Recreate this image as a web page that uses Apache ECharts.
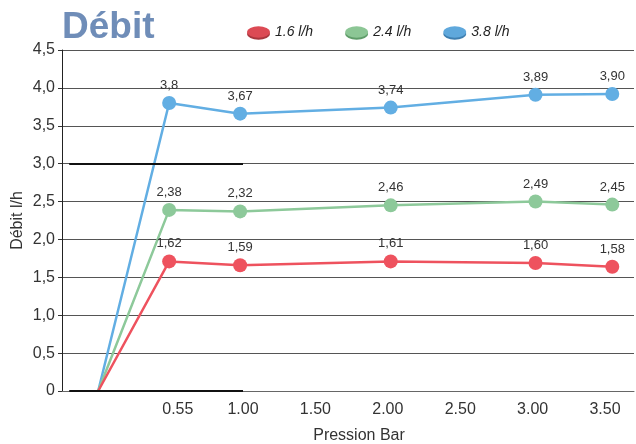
<!DOCTYPE html>
<html>
<head>
<meta charset="utf-8">
<script src="https://cdn.jsdelivr.net/npm/echarts@6/dist/echarts.min.js"></script>
<style>
  html, body { margin: 0; padding: 0; background: #fff; }
  #chart { width: 636px; height: 444px; }
</style>
</head>
<body>
<div id="chart"></div>
<script>
// pression (bar) ou sont posés les points, origine comprise
var pression = [0, 0.49, 0.98, 2.02, 3.02, 3.55];
var xTickLabels = ['0.55', '1.00', '1.50', '2.00', '2.50', '3.00', '3.50'];

// debit tel que dessiné + étiquettes imprimées
var debit16 = [0, 1.71, 1.66, 1.71, 1.69, 1.64];
var etiq16 = ['', '1,62', '1,59', '1,61', '1,60', '1,58'];
var debit24 = [0, 2.39, 2.37, 2.45, 2.50, 2.46];
var etiq24 = ['', '2,38', '2,32', '2,46', '2,49', '2,45'];
var debit38 = [0, 3.80, 3.66, 3.74, 3.91, 3.92];
var etiq38 = ['', '3,8', '3,67', '3,74', '3,89', '3,90'];

var ellipse = 'path://M0,5 A10,5 0 1,1 20,5 A10,5 0 1,1 0,5 Z';

function points(vals, etiq) {
  var out = [];
  for (var i = 0; i < vals.length; i++) {
    if (i == 0) {
      out.push({ value: [pression[i], vals[i]], symbol: 'none', label: { show: false } });
    } else {
      out.push({ value: [pression[i], vals[i]], etiq: etiq[i] });
    }
  }
  return out;
}

function serie(nom, vals, etiq, couleur) {
  return {
    name: nom,
    type: 'line',
    data: points(vals, etiq),
    symbol: 'circle',
    symbolSize: 14,
    showAllSymbol: true,
    lineStyle: { color: couleur, width: 2.5 },
    itemStyle: { color: couleur },
    emphasis: { disabled: true },
    label: {
      show: true,
      position: 'top',
      distance: 4,
      color: '#333',
      fontSize: 13,
      fontFamily: 'Liberation Sans',
      formatter: function (p) { return p.data.etiq; }
    }
  };
}

var chart = echarts.init(document.getElementById('chart'));
var s16 = serie('1.6 l/h', debit16, etiq16, '#ee525e');
var s24 = serie('2.4 l/h', debit24, etiq24, '#8dc99a');
var s38 = serie('3.8 l/h', debit38, etiq38, '#62aee3');

// traits noirs plus épais à gauche sur 0 et 3,0
s38.markLine = {
  silent: true,
  symbol: 'none',
  label: { show: false },
  lineStyle: { color: '#111', width: 2, type: 'solid' },
  data: [
    [{ coord: [-0.2, 3] }, { coord: [1.0, 3] }],
    [{ coord: [-0.2, 0] }, { coord: [1.0, 0] }]
  ]
};

chart.setOption({
  animation: false,
  textStyle: { fontFamily: 'Liberation Sans' },
  title: {
    text: 'Débit',
    left: 57,
    top: 4,
    textStyle: { color: '#6f8db8', fontSize: 37, fontWeight: 'bold', fontFamily: 'Liberation Sans' }
  },
  legend: {
    left: 242,
    top: 20,
    itemWidth: 23,
    itemHeight: 15,
    itemGap: 32,
    icon: ellipse,
    textStyle: { color: '#222', fontSize: 14, fontStyle: 'italic' },
    data: [
      { name: '1.6 l/h', itemStyle: { color: '#dc4a54', shadowColor: '#a8363d', shadowOffsetY: 2 } },
      { name: '2.4 l/h', itemStyle: { color: '#8cc695', shadowColor: '#5f9c69', shadowOffsetY: 2 } },
      { name: '3.8 l/h', itemStyle: { color: '#5fa8dc', shadowColor: '#3f7fb0', shadowOffsetY: 2 } }
    ]
  },
  grid: { left: 62, right: 2, top: 50, bottom: 53, outerBoundsMode: 'none' },
  xAxis: {
    type: 'value',
    min: -0.25,
    max: 3.7,
    interval: 0.05,
    name: 'Pression Bar',
    nameLocation: 'middle',
    nameGap: 37,
    nameTextStyle: { color: '#333', fontSize: 16, padding: [0, 0, 0, 22] },
    axisLine: { show: true, onZero: false, lineStyle: { color: '#666', width: 1 } },
    axisTick: { show: false },
    splitLine: { show: false },
    axisLabel: {
      color: '#333',
      fontSize: 16,
      margin: 11,
      showMinLabel: false,
      showMaxLabel: false,
      formatter: function (v) {
        var t = (Math.round(v * 100) / 100).toFixed(2);
        return xTickLabels.indexOf(t) >= 0 ? t : '';
      }
    }
  },
  yAxis: {
    type: 'value',
    min: 0,
    max: 4.5,
    interval: 0.5,
    name: 'Débit l/h',
    nameLocation: 'middle',
    nameGap: 36,
    nameMoveOverlap: false,
    nameTextStyle: { color: '#333', fontSize: 16 },
    axisLine: { show: true, onZero: false, lineStyle: { color: '#222', width: 1 } },
    axisTick: { show: true, length: 4, lineStyle: { color: '#333' } },
    splitLine: { show: true, lineStyle: { color: '#555', width: 1 } },
    axisLabel: {
      color: '#333',
      fontSize: 16,
      margin: 7,
      formatter: function (v) { return v === 0 ? '0' : v.toFixed(1).replace('.', ','); }
    }
  },
  series: [s38, s24, s16]
});
</script>
</body>
</html>
